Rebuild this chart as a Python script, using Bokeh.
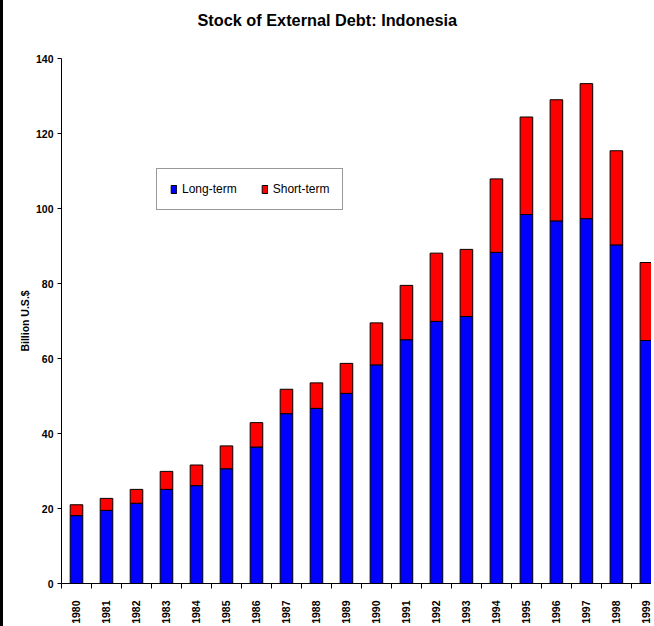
from bokeh.plotting import figure
from bokeh.models import Range1d, FixedTicker, Legend, Title
from bokeh.embed import file_html
from bokeh.resources import INLINE
import math

years = [1980, 1981, 1982, 1983, 1984, 1985, 1986, 1987, 1988, 1989,
         1990, 1991, 1992, 1993, 1994, 1995, 1996, 1997, 1998, 1999]
long_term = [18.1, 19.5, 21.4, 25.1, 26.1, 30.6, 36.4, 45.3, 46.7, 50.7,
             58.3, 65.0, 69.9, 71.2, 88.3, 98.4, 96.7, 97.3, 90.3, 64.8]
short_term = [2.9, 3.2, 3.7, 4.8, 5.5, 6.1, 6.5, 6.5, 6.8, 8.0,
              11.2, 14.5, 18.2, 17.9, 19.6, 26.0, 32.3, 36.0, 25.1, 20.8]
series_names = ["Long-term", "Short-term"]
series_colors = ["#0000FF", "#FF0000"]
y_ticks = [0, 20, 40, 60, 80, 100, 120, 140]
title_text = "Stock of External Debt: Indonesia"
y_label = "Billion U.S.$"

FONT = "Liberation Sans"

xs = list(range(len(years)))
data = {"x": xs, "Long-term": long_term, "Short-term": short_term}

p = figure(width=651, height=626, output_backend="svg", toolbar_location=None,
           x_range=Range1d(-0.5, 19.27), y_range=Range1d(0, 140),
           min_border_left=58, min_border_right=0, min_border_top=58,
           min_border_bottom=43)
p.styles = {"border-left": "3px solid black"}

rs = p.vbar_stack(series_names, x="x", width=0.42, source=data,
                  fill_color=series_colors, line_color="black", line_width=1)

# spacer between the title and the frame (pushes the title to the top)
spacer = Title(text=" ", text_font=FONT, text_font_size="1px", standoff=16)
p.add_layout(spacer, "above")

p.title.text = title_text
p.title.align = "left"
p.title.vertical_align = "top"
p.title.text_font = FONT
p.title.text_font_size = "16.3px"
p.title.text_font_style = "bold"
p.title.text_color = "black"
p.title.offset = 136
p.title.standoff = 18

p.xgrid.visible = False
p.ygrid.visible = False
p.outline_line_color = None
p.background_fill_color = "white"
p.border_fill_color = "white"

xa = p.xaxis[0]
xa.ticker = FixedTicker(ticks=xs, minor_ticks=[i - 0.5 for i in range(len(years) + 1)])
xa.major_label_overrides = {i: str(y) for i, y in zip(xs, years)}
xa.major_label_orientation = math.pi / 2
xa.major_tick_out = 0
xa.major_tick_in = 0
xa.minor_tick_out = 5
xa.minor_tick_in = 0
xa.minor_tick_line_color = "black"
xa.major_label_standoff = 12
xa.major_label_text_font = FONT
xa.major_label_text_font_style = "bold"
xa.major_label_text_font_size = "10.5px"
xa.major_label_text_color = "black"
xa.axis_line_color = "black"

ya = p.yaxis[0]
ya.ticker = FixedTicker(ticks=y_ticks, minor_ticks=[])
ya.major_tick_out = 4
ya.major_tick_in = 0
ya.major_label_standoff = 4
ya.major_label_text_font = FONT
ya.major_label_text_font_style = "bold"
ya.major_label_text_font_size = "10.5px"
ya.major_label_text_color = "black"
ya.axis_line_color = "black"
ya.axis_label = y_label
ya.axis_label_text_font = FONT
ya.axis_label_text_font_style = "bold"
ya.axis_label_text_font_size = "10.5px"
ya.axis_label_standoff = 2
ya.axis_label_text_color = "black"

leg = Legend(items=[(series_names[0], [rs[0]]), (series_names[1], [rs[1]])],
             orientation="horizontal", location=(95, 373))
leg.glyph_width = 7
leg.glyph_height = 10
leg.label_standoff = 5
leg.spacing = 24
leg.padding = 13
leg.margin = 0
leg.label_text_font = FONT
leg.label_text_font_size = "12px"
leg.label_text_color = "black"
leg.border_line_color = "#333333"
leg.border_line_width = 1
leg.background_fill_alpha = 1
p.add_layout(leg, "center")

open("out.html", "w").write(file_html(p, INLINE))
